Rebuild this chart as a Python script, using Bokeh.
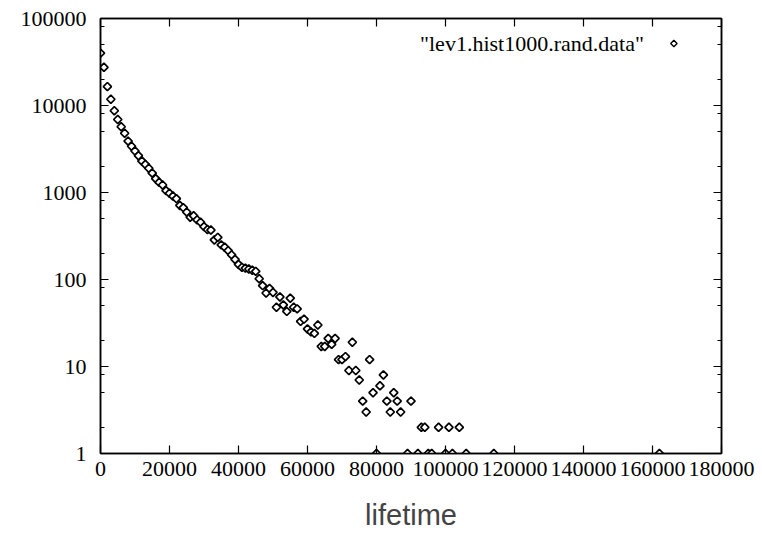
import numpy as np
from bokeh.plotting import figure
from bokeh.models import Range1d, LinearAxis, LogAxis, FixedTicker
from bokeh.core.properties import value
from bokeh.embed import file_html
from bokeh.resources import INLINE

# lifetime bins (in units of 1000) and counts
lifetime_k = [0, 1, 2, 3, 4, 5, 6, 7, 8, 9,
              10, 11, 12, 13, 14, 15, 16, 17, 18, 19,
              20, 21, 22, 23, 24, 25, 26, 27, 28, 29,
              30, 31, 32, 33, 34, 35, 36, 37, 38, 39,
              40, 41, 42, 43, 44, 45, 46, 47, 48, 49,
              50, 51, 52, 53, 54, 55, 56, 57, 58, 59,
              60, 61, 62, 63, 64, 65, 66, 67, 68, 69,
              70, 71, 72, 73, 74, 75, 76, 77, 78, 79,
              80, 81, 82, 83, 84, 85, 86, 87, 89, 90,
              92, 93, 94, 95, 96, 98, 100, 101, 102, 104,
              106, 114, 162]
counts = [40000, 27500, 16500, 11800, 8700, 6900, 5700, 4800, 3900, 3400,
          3000, 2650, 2300, 2100, 1900, 1670, 1440, 1310, 1220, 1050,
          980, 910, 850, 710, 670, 595, 520, 540, 485, 455,
          405, 375, 370, 285, 305, 250, 235, 215, 192, 170,
          149, 138, 135, 132, 128, 124, 102, 85, 70, 79,
          71, 48, 63, 51, 43, 61, 48, 46, 33, 35,
          27, 25, 24, 30, 17, 17, 21, 18, 21, 12,
          12, 13, 9, 19, 9, 7, 4, 3, 12, 5,
          1, 6, 8, 4, 3, 5, 4, 3, 1, 4,
          1, 2, 2, 1, 1, 2, 1, 2, 1, 2,
          1, 1, 1]
lifetime = [k * 1000 for k in lifetime_k]

x_ticks = [0, 20000, 40000, 60000, 80000, 100000, 120000, 140000, 160000, 180000]
y_ticks = [1, 10, 100, 1000, 10000, 100000]
y_minor = [m * d for d in [1, 10, 100, 1000, 10000] for m in (2, 5, 8)]

LEGEND_LABEL = '"lev1.hist1000.rand.data"'
X_LABEL = "lifetime"

# legend placement (data coords)
LEG_TEXT_X = 157500
LEG_MARK_X = 166200
LEG_Y = 10 ** 4.713

SERIF = "Liberation Serif"

p = figure(width=762, height=536, output_backend="svg", toolbar_location=None,
           x_range=Range1d(0, 180000), y_range=Range1d(1, 100000),
           y_axis_type="log", x_axis_location=None, y_axis_location=None,
           min_border_left=100, min_border_right=41, min_border_top=18,
           min_border_bottom=83)
p.grid.visible = False
p.outline_line_color = "black"
p.outline_line_width = 1.5
p.background_fill_color = "white"
p.border_fill_color = "white"


def style(ax, ticks, labels=True):
    ax.axis_line_color = "black"
    ax.axis_line_width = 1.5
    ax.major_tick_in = 8
    ax.major_tick_out = 0
    ax.major_tick_line_width = 1.2
    ax.minor_tick_in = 4
    ax.minor_tick_out = 0
    ax.minor_tick_line_width = 1.2
    ax.major_label_text_font = SERIF
    ax.major_label_text_font_size = "22px"
    ax.major_label_text_color = "black"
    if labels:
        ax.major_label_overrides = {t: str(t) for t in ticks}
    else:
        ax.major_label_overrides = {t: "" for t in ticks}
        ax.major_label_standoff = 0


xb = LinearAxis(ticker=FixedTicker(ticks=x_ticks))
style(xb, x_ticks)
xb.minor_tick_line_color = None
xb.major_label_standoff = 8
xb.axis_label = X_LABEL
xb.axis_label_text_font = "Liberation Sans"
xb.axis_label_text_font_style = "normal"
xb.axis_label_text_font_size = "29px"
xb.axis_label_standoff = 20
p.add_layout(xb, "below")

xt = LinearAxis(ticker=FixedTicker(ticks=x_ticks))
style(xt, x_ticks, labels=False)
xt.minor_tick_line_color = None
p.add_layout(xt, "above")

yl = LogAxis(ticker=FixedTicker(ticks=y_ticks, minor_ticks=y_minor))
style(yl, y_ticks)
yl.major_label_standoff = 14
p.add_layout(yl, "left")

yr = LogAxis(ticker=FixedTicker(ticks=y_ticks, minor_ticks=y_minor))
style(yr, y_ticks, labels=False)
p.add_layout(yr, "right")

p.scatter(lifetime, counts, marker="square", angle=np.pi / 4, size=5.8,
          line_color="black", line_width=1.7, fill_color="white")

# legend (gnuplot style: label then sample)
p.text(x=[LEG_TEXT_X], y=[LEG_Y], text=[LEGEND_LABEL], text_align="right",
       text_baseline="middle", text_font=value(SERIF), text_font_size="22px",
       text_color="black")
p.scatter(x=[LEG_MARK_X], y=[LEG_Y], marker="square", angle=np.pi / 4, size=4.5,
          line_color="black", line_width=1.4, fill_color="white")

open("out.html", "w").write(file_html(p, INLINE))
